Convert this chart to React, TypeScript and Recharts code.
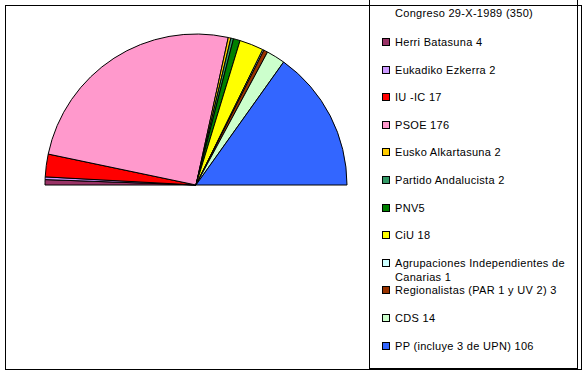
import React from "react";
import { Pie, PieChart, Cell } from "recharts";

const parties = [
  "Herri Batasuna 4",
  "Eukadiko Ezkerra 2",
  "IU -IC 17",
  "PSOE 176",
  "Eusko Alkartasuna 2",
  "Partido Andalucista 2",
  "PNV5",
  "CiU 18",
  "Agrupaciones Independientes de Canarias 1",
  "Regionalistas (PAR 1 y UV 2) 3",
  "CDS 14",
  "PP (incluye 3 de UPN) 106",
];
const seats = [4, 2, 17, 176, 2, 2, 5, 18, 1, 3, 14, 106];
const colors = [
  "#993366", "#CC99FF", "#FF0000", "#FF99CC", "#FFCC00", "#339966",
  "#008000", "#FFFF00", "#CCFFFF", "#993300", "#CCFFCC", "#3366FF",
];
const title = "Congreso 29-X-1989 (350)";

const data = parties.map((name, i) => ({ name, value: seats[i] }));

const font = '"Liberation Sans", Arial, sans-serif';

export default function App() {
  return (
    <div style={{ position: "absolute", left: 0, top: 0, width: 587, height: 374, background: "#fff", fontFamily: font }}>
      <div style={{ position: "absolute", left: 5, top: 5, width: 575, height: 363, border: "1px solid #000" }} />
      <div style={{ position: "absolute", left: 369, top: -2, width: 207, height: 370, borderLeft: "1px solid #000", borderRight: "1px solid #000", borderBottom: "1px solid #000" }} />
      <PieChart width={360} height={374} margin={{ top: 0, right: 0, bottom: 0, left: 0 }} style={{ position: "absolute", left: 0, top: 0 }}>
        <Pie
          data={data}
          dataKey="value"
          cx={196}
          cy={185}
          outerRadius={151}
          startAngle={180}
          endAngle={0}
          stroke="#000"
          strokeWidth={1}
          isAnimationActive={false}
        >
          {data.map((d, i) => (
            <Cell key={d.name} fill={colors[i]} />
          ))}
        </Pie>
      </PieChart>
      <div style={{ position: "absolute", left: 395, top: 7, fontSize: 11, letterSpacing: 0.3, whiteSpace: "nowrap" }}>{title}</div>
      {data.map((d, i) => (
        <div key={d.name} style={{ position: "absolute", left: 382, top: 42 + i * 27.6 - 7, width: 190, fontSize: 11, letterSpacing: 0.3, lineHeight: "14px" }}>
          <span style={{ position: "absolute", left: 0, top: 3, width: 6, height: 6, border: "1px solid #000", background: colors[i] }} />
          <div style={{ marginLeft: 13 }}>{d.name}</div>
        </div>
      ))}
    </div>
  );
}
